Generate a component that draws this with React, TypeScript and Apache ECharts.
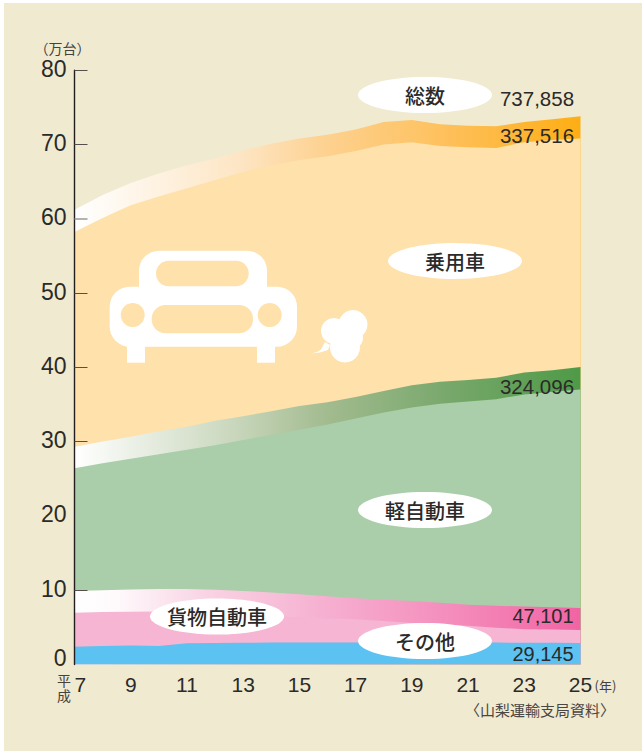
import React, { useEffect, useRef } from "react";
import * as echarts from "echarts";

const years = ["7","8","9","10","11","12","13","14","15","16","17","18","19","20","21","22","23","24","25"];
const yTicks = [10, 30, 40, 50, 70, 80];
const fadedTicks = [60];

// cumulative levels, in 万台
const totalTop = [61.2,63.2,64.8,66.1,67.2,68.1,69.2,70.1,70.8,71.3,72.0,73.0,73.3,72.7,72.5,72.45,73.0,73.4,73.79];
const carBase = [58.2,60.1,61.8,63.0,64.1,65.2,66.3,67.2,67.9,68.4,69.1,70.0,70.3,69.8,69.6,69.5,70.3,70.6,70.8];
const keiTop = [29.3,30.0,30.65,31.4,32.0,32.8,33.4,34.1,34.8,35.3,36.0,36.8,37.6,38.05,38.3,38.6,39.3,39.6,40.03];
const keiBase = [26.4,27.1,27.7,28.3,28.9,29.5,30.2,30.9,31.6,32.3,33.1,33.9,34.6,35.1,35.4,35.7,36.35,36.7,37.0];
const truckTop = [9.9,10.0,10.1,10.15,10.15,10.07,9.9,9.7,9.45,9.2,8.9,8.7,8.55,8.3,8.05,7.9,7.8,7.7,7.62];
const truckBase = [6.97,7.05,7.1,7.15,7.1,7.0,6.8,6.55,6.35,6.2,6.1,5.85,5.6,5.4,5.2,4.95,4.75,4.7,4.65];
const otherTop = [2.4,2.5,2.55,2.5,2.85,2.9,2.93,2.95,2.95,2.95,2.95,2.95,2.95,2.95,2.95,2.95,2.93,2.93,2.91];

const endLabels = [
  { text: "737,858", y: 98 },
  { text: "337,516", y: 135.5 },
  { text: "324,096", y: 386.5 },
];
const lowLabels = [
  { text: "47,101", y: 615.5 },
  { text: "29,145", y: 653.5 },
];
const bubbles = [
  { text: "総数", x: 425, y: 95 },
  { text: "乗用車", x: 455, y: 261 },
  { text: "軽自動車", x: 425, y: 510 },
  { text: "貨物自動車", x: 217, y: 616.5 },
  { text: "その他", x: 425, y: 641 },
];

const INK = "#2b2a29";
const PAPER = "#f0ead0";
const PALE_ORANGE = "#fee1ab";
const PALE_GREEN = "#a9cea9";
const PALE_PINK = "#f5b5d3";
const BLUE = "#5bc2f1";
const LATIN = '"Liberation Sans", Arial, sans-serif';
const CJK = '"Noto Sans CJK JP", sans-serif';

function grad(stops: [number, string][]) {
  return new echarts.graphic.LinearGradient(0, 0, 1, 0, stops.map(([offset, color]) => ({ offset, color })));
}

function area(name: string, data: number[], color: any) {
  return {
    name,
    type: "line",
    data,
    symbol: "none",
    silent: true,
    lineStyle: { width: 0 },
    areaStyle: { color, opacity: 1 },
  };
}

function carIcon() {
  const w = "#ffffff";
  const r = (x: number, y: number, width: number, height: number, rad: number, fill: string) => ({
    type: "rect",
    shape: { x, y, width, height, r: rad },
    style: { fill },
  });
  const c = (cx: number, cy: number, rad: number, fill: string) => ({
    type: "circle",
    shape: { cx, cy, r: rad },
    style: { fill },
  });
  return [
    r(127, 340, 18, 22.7, 0, w),
    r(257, 340, 18, 22.7, 0, w),
    r(139, 250.7, 128, 60, 20, w),
    r(109.7, 286.7, 187.3, 60, 20, w),
    r(156, 260.7, 92.7, 25.5, 12.7, PALE_ORANGE),
    r(151.7, 305, 101.3, 28.3, 14, PALE_ORANGE),
    c(132.7, 315, 12, PALE_ORANGE),
    c(269.7, 315, 12, PALE_ORANGE),
    c(353, 324.5, 14.5, w),
    c(334, 331, 13, w),
    c(345, 347.5, 15, w),
    c(352, 338, 11, w),
    {
      type: "polygon",
      shape: { points: [[311.5, 353.5], [317, 352], [321, 349.5], [325, 342], [330, 345], [328, 350], [320, 352.5]] },
      style: { fill: w },
    },
  ];
}

export default function App() {
  const ref = useRef<HTMLDivElement>(null);

  useEffect(() => {
    document.body.style.margin = "0";
    const chart = echarts.init(ref.current!, undefined, { renderer: "svg" });

    const plainText = (text: string, x: number, y: number, fontSize: number, fontFamily: string, extra: any = {}) => ({
      type: "text",
      x,
      y,
      style: { text, fontSize, fontFamily, fill: INK, textAlign: "center", textVerticalAlign: "middle", ...extra },
    });

    const yAxisBase = { type: "value", min: 0, max: 80, interval: 10, z: 5, splitLine: { show: false } };

    const overlay: any[] = [
      ...carIcon(),
      ...bubbles.flatMap((b) => [
        { type: "ellipse", shape: { cx: b.x, cy: b.y, rx: 67, ry: 18 }, style: { fill: "#ffffff" } },
        plainText(b.text, b.x, b.y, 20, CJK, { fontWeight: 500 }),
      ]),
      ...endLabels.map((l) => plainText(l.text, 537, l.y, 20.5, LATIN)),
      ...lowLabels.map((l) => plainText(l.text, 543, l.y, 20, LATIN)),
      plainText("（万台）", 62.5, 48, 14, CJK, { fill: "#45413e" }),
      plainText("平\n成", 64, 687.5, 14, CJK, { fill: "#45413e", lineHeight: 15 }),
      plainText("(年)", 605.5, 685, 13, CJK, { fill: "#45413e" }),
      plainText("〈山梨運輸支局資料〉", 540, 709, 15, CJK, { fill: "#4a4643" }),
    ];

    chart.setOption({
      animation: false,
      backgroundColor: "transparent",
      grid: { left: 74.5, right: 61.5, top: 70.1, bottom: 86.5, containLabel: false },
      xAxis: {
        type: "category",
        data: years,
        boundaryGap: false,
        axisLine: { show: false },
        axisTick: { show: false },
        axisLabel: {
          interval: 1,
          margin: 9,
          color: INK,
          fontSize: 21,
          fontFamily: LATIN,
          alignMinLabel: "left",
        },
      },
      yAxis: [
        {
          ...yAxisBase,
          axisLine: { show: true, lineStyle: { color: "#231f20", width: 1.4 } },
          axisTick: { show: true, inside: true, length: 13, customValues: yTicks, lineStyle: { color: "#55504c", width: 1 } },
          axisLabel: {
            margin: 8,
            color: INK,
            fontSize: 23,
            fontFamily: LATIN,
            formatter: (v: number) => (v === 0 ? "{zero|0}" : "{std|" + v + "}"),
            rich: {
              std: { fontSize: 23, fontFamily: LATIN, color: INK, padding: [0, 0, 3, 0] },
              zero: { fontSize: 23, fontFamily: LATIN, color: INK, padding: [0, 0, 13, 0] },
            },
          },
        },
        {
          ...yAxisBase,
          position: "left",
          axisLine: { show: false },
          axisTick: { show: true, inside: true, length: 13, customValues: fadedTicks, lineStyle: { color: "#9a9a9a", width: 1.5 } },
          axisLabel: { show: false },
        },
      ],
      series: [
        area("総数", totalTop, grad([[0, "#ffffff"], [0.33, "#fde5c3"], [0.5, "#fdd18f"], [0.75, "#febf58"], [1, "#fdae14"]])),
        area("乗用車", carBase, PALE_ORANGE),
        area("軽自動車の帯", keiTop, grad([[0, "#ffffff"], [0.3, "#ccd9c0"], [0.5, "#a2bb8f"], [0.75, "#76a76a"], [1, "#4e9a47"]])),
        area("軽自動車", keiBase, PALE_GREEN),
        area("貨物自動車の帯", truckTop, grad([[0, "#ffffff"], [0.08, "#fefafc"], [0.25, "#f9d5e5"], [0.5, "#f6afd0"], [0.75, "#f48cbb"], [1, "#f164a4"]])),
        area("貨物自動車", truckBase, PALE_PINK),
        area("その他", otherTop, BLUE),
      ],
      graphic: { elements: overlay.map((el) => ({ ...el, z: 100 })) },
    });
    return () => chart.dispose();
  }, []);

  return (
    <div style={{ position: "relative", width: 642, height: 751, overflow: "hidden", background: "#ffffff" }}>
      <div style={{ position: "absolute", left: 4, top: 3, width: 638, height: 748, background: PAPER }} />
      <div ref={ref} style={{ position: "absolute", left: 0, top: 0, width: 642, height: 751 }} />
    </div>
  );
}
